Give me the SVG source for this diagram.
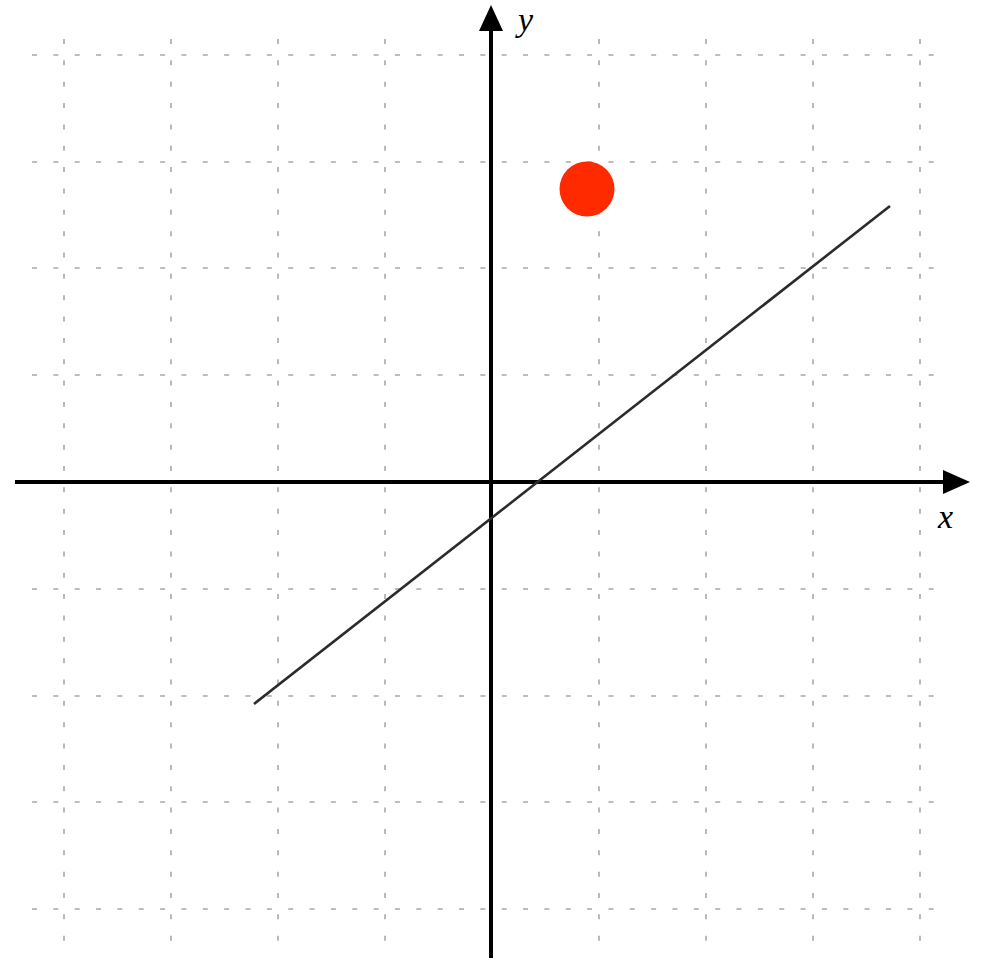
<svg xmlns="http://www.w3.org/2000/svg" width="997" height="975" viewBox="0 0 997 975">
<style>
.grid{stroke:#a8a8a8;stroke-width:1.6;stroke-dasharray:5 16.35;fill:none}
.axis{stroke:#000;stroke-width:4;fill:none}
.lbl{font-family:"Liberation Serif","DejaVu Serif",serif;font-style:italic;font-size:34px;fill:#000}
</style>
<g id="grid">
<path class="grid" d="M64 39V941M171 39V941M278 39V941M385 39V941M599 39V941M706 39V941M813 39V941M920 39V941"/>
<path class="grid" d="M32 55H937M32 162H937M32 268H937M32 375H937M32 589H937M32 696H937M32 802H937M32 909H937"/>
</g>
<g id="connectors">
<line class="axis" x1="15" y1="482" x2="946" y2="482"/>
<polygon points="970,482 943,470 943,494" fill="#000"/>
<line class="axis" x1="491" y1="958" x2="491" y2="28"/>
<polygon points="491,5 479,31 503,31" fill="#000"/>
<line x1="254" y1="704" x2="890" y2="206" stroke="#2b2b2b" stroke-width="2.6"/>
</g>
<g id="point">
<circle cx="587" cy="189" r="27.5" fill="#ff2a00"/>
</g>
<g id="labels">
<text class="lbl" x="518" y="31">y</text>
<text class="lbl" x="938" y="528">x</text>
</g>
</svg>
